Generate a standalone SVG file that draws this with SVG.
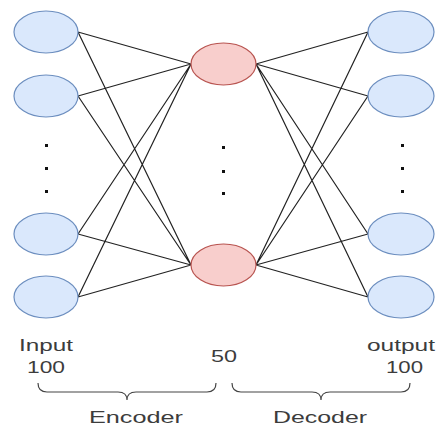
<svg xmlns="http://www.w3.org/2000/svg" width="440" height="427" viewBox="0 0 440 427">
<style>
.io{fill:#dae8fc;stroke:#6c8ebf;stroke-width:1.2}
.hid{fill:#f8cecc;stroke:#b85450;stroke-width:1.2}
.edge{stroke:#222;stroke-width:1.2;fill:none}
.br{stroke:#444;stroke-width:1.2;fill:none}
.dot{fill:#111}
text{font-family:"Liberation Sans",Arial,sans-serif;font-size:16px;fill:#3c3c3c}
</style>
<rect width="440" height="427" fill="#fff"/>
<g id="connectors">
<path class="edge" d="M78,32L191,64M78,32L191,265M78,96L191,64M78,96L191,265M78,234L191,64M78,234L191,265M78,297L191,64M78,297L191,265"/>
<path class="edge" d="M256,64L368,32M256,64L368,96M256,64L368,234M256,64L368,297M256,265L368,32M256,265L368,96M256,265L368,234M256,265L368,297"/>
</g>
<g id="in1"><ellipse class="io" cx="46" cy="32" rx="32" ry="21"/></g>
<g id="in2"><ellipse class="io" cx="46" cy="96" rx="32" ry="21"/></g>
<g id="in3"><ellipse class="io" cx="46" cy="234" rx="32" ry="21"/></g>
<g id="in4"><ellipse class="io" cx="46" cy="297" rx="32" ry="21"/></g>
<g id="h1"><ellipse class="hid" cx="223.5" cy="64" rx="32.5" ry="21"/></g>
<g id="h2"><ellipse class="hid" cx="223.5" cy="265" rx="32.5" ry="21"/></g>
<g id="out1"><ellipse class="io" cx="401" cy="32" rx="33" ry="21"/></g>
<g id="out2"><ellipse class="io" cx="401" cy="96" rx="33" ry="21"/></g>
<g id="out3"><ellipse class="io" cx="401" cy="234" rx="33" ry="21"/></g>
<g id="out4"><ellipse class="io" cx="401" cy="297" rx="33" ry="21"/></g>
<g id="dots">
<rect class="dot" x="45" y="144" width="3" height="3"/>
<rect class="dot" x="45" y="167" width="3" height="3"/>
<rect class="dot" x="45" y="190" width="3" height="3"/>
<rect class="dot" x="222" y="146" width="3" height="3"/>
<rect class="dot" x="222" y="170" width="3" height="3"/>
<rect class="dot" x="222" y="192" width="3" height="3"/>
<rect class="dot" x="401" y="144" width="3" height="3"/>
<rect class="dot" x="401" y="167" width="3" height="3"/>
<rect class="dot" x="401" y="190" width="3" height="3"/>
</g>
<g id="labels">
<text x="19" y="351" textLength="54" lengthAdjust="spacingAndGlyphs">Input</text>
<text x="27" y="373" textLength="38" lengthAdjust="spacingAndGlyphs">100</text>
<text x="211" y="362" textLength="26" lengthAdjust="spacingAndGlyphs">50</text>
<text x="367" y="351" textLength="68" lengthAdjust="spacingAndGlyphs">output</text>
<text x="386" y="373" textLength="37" lengthAdjust="spacingAndGlyphs">100</text>
</g>
<g id="encoder">
<path class="br" d="M38,383Q38,392 47,392L118,392Q127,392 127,400Q127,392 136,392L207,392Q216,392 216,383"/>
<text x="89" y="423" textLength="94" lengthAdjust="spacingAndGlyphs">Encoder</text>
</g>
<g id="decoder">
<path class="br" d="M232,383Q232,392 241,392L312,392Q321,392 321,400Q321,392 330,392L401,392Q410,392 410,383"/>
<text x="273" y="423" textLength="94" lengthAdjust="spacingAndGlyphs">Decoder</text>
</g>
</svg>
